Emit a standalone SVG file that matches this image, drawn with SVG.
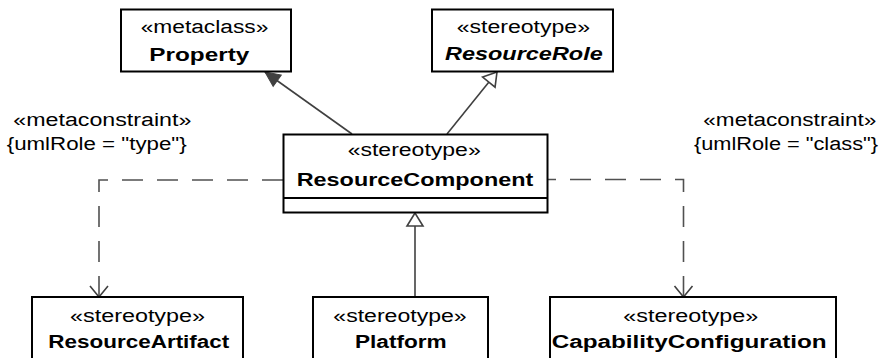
<svg xmlns="http://www.w3.org/2000/svg" width="879" height="358" viewBox="0 0 879 358">
<style>
.box{fill:#fff;stroke:#000;stroke-width:2}
.st{font-family:"Liberation Sans",Arial,sans-serif;font-size:18px;fill:#000}
.nm{font-family:"Liberation Sans",Arial,sans-serif;font-size:18px;font-weight:bold;fill:#000}
.it{font-style:italic}
.ln{fill:none;stroke:#404040;stroke-width:1.6}
.dash{fill:none;stroke:#505050;stroke-width:1.6;stroke-dasharray:21 14}
</style>
<defs>
<marker id="ext" markerUnits="userSpaceOnUse" orient="auto" refX="0" refY="0" markerWidth="20" markerHeight="20" overflow="visible">
<path d="M0,0 L-15,-7 L-15,7 Z" fill="#404040" stroke="#404040" stroke-width="1"/>
</marker>
<marker id="gen" markerUnits="userSpaceOnUse" orient="auto" refX="0" refY="0" markerWidth="20" markerHeight="20" overflow="visible">
<path d="M0,0 L-13,-8 L-13,8 Z" fill="#fff" stroke="#404040" stroke-width="1.6"/>
</marker>
<marker id="open" markerUnits="userSpaceOnUse" orient="auto" refX="0" refY="0" markerWidth="20" markerHeight="20" overflow="visible">
<path d="M-11,-9 L0,0 L-11,9" fill="none" stroke="#404040" stroke-width="1.6" stroke-dasharray="none"/>
</marker>
</defs>

<g id="connectors">
<path class="ln" d="M352,134 L265,72" marker-end="url(#ext)"/>
<path class="ln" d="M447,134 L497,72" marker-end="url(#gen)"/>
<path class="ln" d="M415,297 L415,213" marker-end="url(#gen)"/>
<path class="dash" d="M283,180 H99 V297" marker-end="url(#open)"/>
<path class="dash" style="stroke-dashoffset:13" d="M548,179.5 H683.5 V297" marker-end="url(#open)"/>
<text class="st" x="13.3" y="126" textLength="178" lengthAdjust="spacingAndGlyphs">«metaconstraint»</text>
<text class="st" x="6.7" y="150" textLength="180" lengthAdjust="spacingAndGlyphs">{umlRole = "type"}</text>
<text class="st" x="703.3" y="126" textLength="173" lengthAdjust="spacingAndGlyphs">«metaconstraint»</text>
<text class="st" x="694" y="150" textLength="184" lengthAdjust="spacingAndGlyphs">{umlRole = "class"}</text>
</g>

<g id="Property">
<rect class="box" x="121" y="9.5" width="170" height="62"/>
<text class="st" x="140.7" y="33" textLength="127.6" lengthAdjust="spacingAndGlyphs">«metaclass»</text>
<text class="nm" x="149.3" y="61" textLength="100" lengthAdjust="spacingAndGlyphs">Property</text>
</g>

<g id="ResourceRole">
<rect class="box" x="432" y="9.5" width="181" height="62"/>
<text class="st" x="456.7" y="33" textLength="133.3" lengthAdjust="spacingAndGlyphs">«stereotype»</text>
<text class="nm it" x="445" y="60" textLength="157.7" lengthAdjust="spacingAndGlyphs">ResourceRole</text>
</g>

<g id="ResourceComponent">
<rect class="box" x="283.5" y="134.5" width="264" height="78"/>
<line x1="283.5" y1="198" x2="547.5" y2="198" stroke="#000" stroke-width="2"/>
<text class="st" x="347.7" y="156" textLength="133" lengthAdjust="spacingAndGlyphs">«stereotype»</text>
<text class="nm" x="296.7" y="186" textLength="236.6" lengthAdjust="spacingAndGlyphs">ResourceComponent</text>
</g>

<g id="ResourceArtifact">
<rect class="box" x="32" y="297" width="211" height="80"/>
<text class="st" x="70" y="321.7" textLength="135" lengthAdjust="spacingAndGlyphs">«stereotype»</text>
<text class="nm" x="48.3" y="347.5" textLength="181" lengthAdjust="spacingAndGlyphs">ResourceArtifact</text>
</g>

<g id="Platform">
<rect class="box" x="313" y="297" width="175" height="80"/>
<text class="st" x="333.3" y="321.7" textLength="133.4" lengthAdjust="spacingAndGlyphs">«stereotype»</text>
<text class="nm" x="355" y="347.5" textLength="91.7" lengthAdjust="spacingAndGlyphs">Platform</text>
</g>

<g id="CapabilityConfiguration">
<rect class="box" x="550" y="297" width="286" height="80"/>
<text class="st" x="623.3" y="321.7" textLength="135" lengthAdjust="spacingAndGlyphs">«stereotype»</text>
<text class="nm" x="551.7" y="347.5" textLength="275" lengthAdjust="spacingAndGlyphs">CapabilityConfiguration</text>
</g>
</svg>
